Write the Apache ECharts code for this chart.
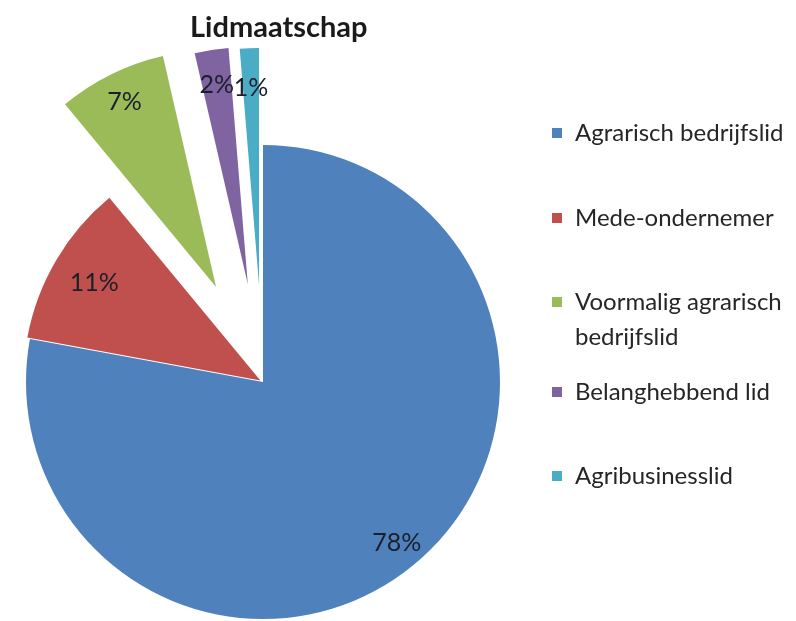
<!DOCTYPE html>
<html><head><meta charset="utf-8">
<script src="https://cdn.jsdelivr.net/npm/echarts@6/dist/echarts.min.js"></script>
<style>html,body{margin:0;padding:0;background:#fff}#c{width:796px;height:621px}</style>
</head><body><div id="c"></div>
<script>
// ---- data ----
const categories = ['Agrarisch bedrijfslid', 'Mede-ondernemer', 'Voormalig agrarisch bedrijfslid', 'Belanghebbend lid', 'Agribusinesslid'];
const values = [77.9, 11.1, 7.4, 2.3, 1.3];
const legendLabels = ['Agrarisch bedrijfslid', 'Mede-ondernemer', '\nVoormalig agrarisch\nbedrijfslid', 'Belanghebbend lid', 'Agribusinesslid'];

// ---- styling ----
const colors = ['#4F81BD', '#C0504D', '#9BBB59', '#8064A2', '#4BACC6'];
const explode = [0, 3, 106, 99, 97];
const labelRadius = [0.87, 0.80, 0.86, 0.84, 0.82];
const legendCenters = [133, 218, 302, 392, 476];
const FONT = 'Lato';
const R = 237;
const CENTER = [263, 382];
const LH = 35;

const total = values.reduce((a, b) => a + b, 0);
const midAngles = [];
let acc = 0;
values.forEach(v => { midAngles.push((acc + v / 2) / total * 2 * Math.PI); acc += v; });

const series = categories.map((name, k) => ({
  type: 'pie',
  center: CENTER,
  radius: [0, R],
  startAngle: 90,
  clockwise: true,
  selectedMode: 'multiple',
  selectedOffset: explode[k],
  avoidLabelOverlap: false,
  animation: false,
  silent: true,
  emphasis: { disabled: true, scale: false },
  itemStyle: { borderWidth: 0 },
  labelLine: { show: false },
  labelLayout: function (p) {
    const a = midAngles[p.dataIndex];
    const s = (labelRadius[p.dataIndex] - 0.5) * R;
    return { dx: s * Math.sin(a), dy: -s * Math.cos(a) };
  },
  data: categories.map((n, i) => ({
    name: n,
    value: values[i],
    selected: i === k,
    itemStyle: { color: i === k ? colors[i] : 'rgba(0,0,0,0)', borderWidth: 0 },
    label: {
      show: i === k,
      position: 'inside',
      formatter: Math.round(values[i] / total * 100) + '%',
      color: '#1b1f2b',
      fontFamily: FONT,
      fontSize: 25
    }
  }))
}));

const legends = categories.map((name, i) => {
  const lines = legendLabels[i].split('\n').length;
  return {
    orient: 'vertical',
    left: 552,
    top: legendCenters[i] - (lines * LH) / 2,
    padding: 0,
    itemWidth: 10,
    itemHeight: 10,
    selectedMode: false,
    icon: 'rect',
    data: [{ name: name, itemStyle: { color: colors[i] } }],
    formatter: () => legendLabels[i],
    textStyle: { fontFamily: FONT, fontSize: 24, color: '#262626', lineHeight: LH, padding: [0, 0, 0, 8] }
  };
});

const chart = echarts.init(document.getElementById('c'), null, { renderer: 'canvas' });
chart.setOption({
  backgroundColor: '#ffffff',
  animation: false,
  title: {
    text: 'Lidmaatschap',
    left: 190,
    top: 13,
    padding: 0,
    textStyle: { fontFamily: FONT, fontSize: 29, fontWeight: 'bold', color: '#1a1a1a' }
  },
  legend: legends,
  series: series
});
</script>
</body></html>
